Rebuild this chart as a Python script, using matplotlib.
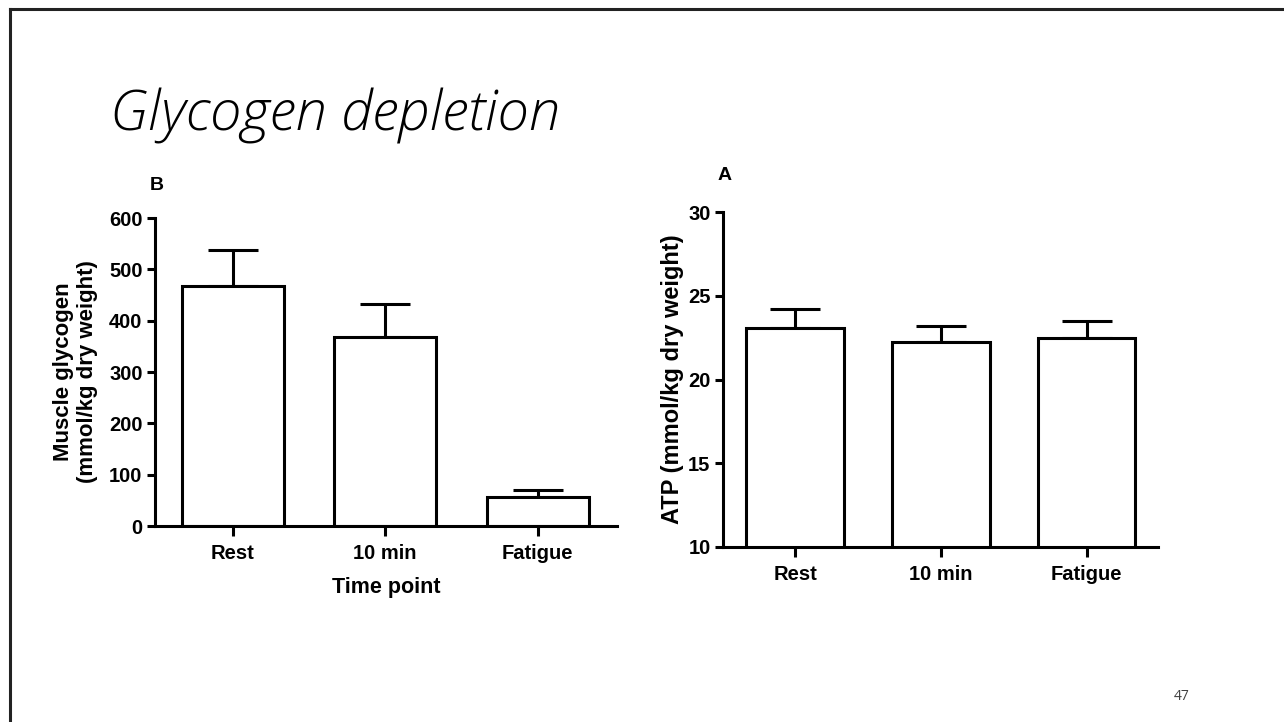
import numpy as np
import matplotlib
matplotlib.use("Agg")
import matplotlib.pyplot as plt
from matplotlib.lines import Line2D

# data
categories = ["Rest", "10 min", "Fatigue"]
glycogen = [468, 368, 57]          # mmol/kg dry weight
glycogen_sem = [70, 65, 14]
atp = [23.1, 22.25, 22.5]          # mmol/kg dry weight
atp_sem = [1.1, 0.95, 1.0]

plt.rcParams['font.family'] = ['Liberation Sans', 'DejaVu Sans']
plt.rcParams['font.weight'] = 'bold'

fig = plt.figure(figsize=(12.84, 7.22), dpi=100)

# slide border (top + left)
fig.add_artist(Line2D([10/1284, 1.0], [1 - 9/722, 1 - 9/722], color='#222222', lw=2.2))
fig.add_artist(Line2D([10/1284, 10/1284], [0.0, 1 - 9/722], color='#222222', lw=2.2))

fig.text(110/1284, 1 - 131/722, "Glycogen depletion", fontsize=40.5, style='italic',
         family=['Open Sans', 'DejaVu Sans'], fontweight='light', va='baseline', ha='left')
fig.text(1182/1284, 1 - 696/722, "47", fontsize=10, family=['Open Sans', 'DejaVu Sans'],
         fontweight='normal', color='#404040', ha='center', va='center')


def bar_panel(ax, vals, errs, ylim, yticks, xlim):
    x = np.arange(len(categories))
    ax.bar(x, vals, width=0.67, color='white', edgecolor='black', linewidth=2.2, zorder=2)
    ax.errorbar(x, vals, yerr=[np.zeros(len(errs)), errs], fmt='none', ecolor='black',
                elinewidth=2.2, capsize=18, capthick=2.2, zorder=1)
    ax.set_ylim(*ylim)
    ax.set_xlim(*xlim)
    ax.set_yticks(yticks)
    ax.set_xticks(x)
    ax.set_xticklabels(categories)
    for s in ['top', 'right']:
        ax.spines[s].set_visible(False)
    for s in ['left', 'bottom']:
        ax.spines[s].set_linewidth(2.2)
    ax.tick_params(axis='y', width=2.2, length=6, labelsize=14.5, pad=3)
    ax.tick_params(axis='x', width=2.2, length=7, labelsize=14.5, pad=6)
    for lab in ax.get_xticklabels() + ax.get_yticklabels():
        lab.set_fontweight('bold')


# panel B
axB = fig.add_axes([155/1284, 1 - 526/722, (617 - 155)/1284, (526 - 218)/722])
bar_panel(axB, glycogen, glycogen_sem, (0, 600), [0, 100, 200, 300, 400, 500, 600], (-0.51, 2.52))
axB.set_ylabel("Muscle glycogen\n(mmol/kg dry weight)", fontsize=16, fontweight='bold',
               labelpad=8, linespacing=1.2)
axB.set_xlabel("Time point", fontsize=15.5, fontweight='bold', labelpad=10)
fig.text(157/1284, 1 - 185/722, "B", fontsize=14, fontweight='bold', ha='center', va='center')

# panel A
axA = fig.add_axes([723/1284, 1 - 547/722, (1158 - 723)/1284, (547 - 212)/722])
bar_panel(axA, atp, atp_sem, (10, 30), [10, 15, 20, 25, 30], (-0.495, 2.49))
axA.set_ylabel("ATP (mmol/kg dry weight)", fontsize=17, fontweight='bold', labelpad=3)
fig.text(725/1284, 1 - 175/722, "A", fontsize=14, fontweight='bold', ha='center', va='center')

fig.savefig("out.png", dpi=100)
